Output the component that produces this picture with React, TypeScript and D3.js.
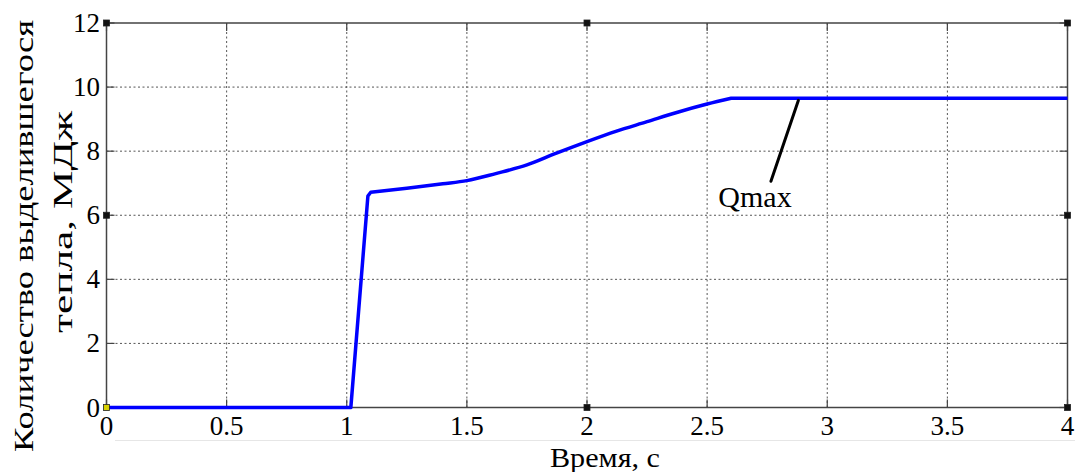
import React from "react";
import * as d3 from "d3";

// Heat release curve: time (s) vs released heat (MJ)
const timeS = [0, 1.0, 1.017, 1.088, 1.1, 1.25, 1.4, 1.5, 1.62, 1.75, 1.87, 2.0, 2.12, 2.25, 2.37, 2.5, 2.6, 4.0];
const heatMJ = [0, 0, 0, 6.6, 6.72, 6.84, 6.98, 7.08, 7.3, 7.57, 7.93, 8.3, 8.62, 8.92, 9.2, 9.47, 9.65, 9.65];

const xTicks = [0, 0.5, 1, 1.5, 2, 2.5, 3, 3.5, 4];
const xTickLabels = ["0", "0.5", "1", "1.5", "2", "2.5", "3", "3.5", "4"];
const yTicks = [0, 2, 4, 6, 8, 10, 12];
const yTickLabels = ["0", "2", "4", "6", "8", "10", "12"];

const yTitleLines = ["Количество выделившегося", "тепла, МДж"];
const xTitle = "Время, с";
const annotation = "Qmax";
const annotationTime = 2.88;

const W = 1075;
const H = 472;
const serifStyle = { fontFamily: '"Liberation Serif", "Times New Roman", Tinos, "DejaVu Serif", serif' };

export default function App() {
  const left = 106.5;
  const right = 1067.5;
  const top = 23;
  const bottom = 407.5;

  const x = d3.scaleLinear().domain([0, 4]).range([left, right]);
  const y = d3.scaleLinear().domain([0, 12]).range([bottom, top]);

  const pts: [number, number][] = timeS.map((t, i) => [t, heatMJ[i]]);
  const linear = d3
    .line<[number, number]>()
    .x((d) => x(d[0]))
    .y((d) => y(d[1]));
  const smooth = d3
    .line<[number, number]>()
    .x((d) => x(d[0]))
    .y((d) => y(d[1]))
    .curve(d3.curveMonotoneX);

  // straight step-up, smooth growth, flat plateau
  const riseEnd = 4;
  const growthEnd = 16;
  const pathD =
    (linear(pts.slice(0, riseEnd + 1)) || "") +
    (smooth(pts.slice(riseEnd, growthEnd + 1)) || "").replace(/^M/, "L") +
    (linear(pts.slice(growthEnd)) || "").replace(/^M/, "L");

  const tickLen = 8;
  const gridColor = "#555";
  const frameColor = "#444";

  // annotation pointer: from the plateau down-left to the label
  const plateau = heatMJ[heatMJ.length - 1];
  const px1 = x(annotationTime);
  const py1 = y(plateau) + 2;
  const px2 = px1 - 27.5;
  const py2 = py1 + 81;

  const midX = (left + right) / 2;
  const midY = (top + bottom) / 2;
  const handles: [number, number, string][] = [
    [left, top, "#111"],
    [midX, top, "#111"],
    [right, top, "#111"],
    [right, midY, "#111"],
    [right, bottom, "#111"],
    [midX, bottom, "#111"],
    [left, midY, "#111"],
    [left, bottom, "#d8d000"],
  ];

  return (
    <div style={{ position: "fixed", left: 0, top: 0 }}>
      <svg width={W} height={H} style={{ display: "block", background: "#fff", ...serifStyle }}>
        {/* grid */}
        <g stroke={gridColor} strokeWidth={1} strokeDasharray="2,2.5">
          {xTicks.slice(1, -1).map((t) => (
            <line key={"gx" + t} x1={x(t)} x2={x(t)} y1={top} y2={bottom} />
          ))}
          {yTicks.slice(1, -1).map((v) => (
            <line key={"gy" + v} x1={left} x2={right} y1={y(v)} y2={y(v)} />
          ))}
        </g>

        {/* ticks on all four sides, pointing inward */}
        <g stroke={frameColor} strokeWidth={1.2}>
          {xTicks.map((t) => (
            <g key={"tx" + t}>
              <line x1={x(t)} x2={x(t)} y1={bottom} y2={bottom - tickLen} />
              <line x1={x(t)} x2={x(t)} y1={top} y2={top + tickLen} />
            </g>
          ))}
          {yTicks.map((v) => (
            <g key={"ty" + v}>
              <line x1={left} x2={left + tickLen} y1={y(v)} y2={y(v)} />
              <line x1={right} x2={right - tickLen} y1={y(v)} y2={y(v)} />
            </g>
          ))}
        </g>

        {/* frame */}
        <rect
          x={left}
          y={top}
          width={right - left}
          height={bottom - top}
          fill="none"
          stroke={frameColor}
          strokeWidth={1.5}
        />

        {/* data line */}
        <path d={pathD} fill="none" stroke="#0000ff" strokeWidth={3.5} strokeLinejoin="round" />

        {/* annotation */}
        <line x1={px1} y1={py1} x2={px2} y2={py2} stroke="#000" strokeWidth={3} strokeLinecap="round" />
        <text x={755} y={207} textAnchor="middle" style={serifStyle} fontSize={30} fill="#000">
          {annotation}
        </text>

        {/* selection handles */}
        {handles.map(([hx, hy, c], i) => (
          <rect key={"h" + i} x={hx - 3} y={hy - 3} width={6} height={6} fill={c} stroke="#222" strokeWidth={0.8} />
        ))}

        {/* tick labels */}
        <g style={serifStyle} fontSize={27} fill="#000">
          {xTicks.map((t, i) => (
            <text key={"lx" + t} x={x(t)} y={435} textAnchor="middle">
              {xTickLabels[i]}
            </text>
          ))}
          {yTicks.map((v, i) => (
            <text key={"ly" + v} x={100} y={y(v) + 9} textAnchor="end">
              {yTickLabels[i]}
            </text>
          ))}
        </g>

        {/* faint separator under the x labels */}
        <line x1={115} x2={W} y1={440.5} y2={440.5} stroke="#e6e6e6" strokeWidth={1} />

        {/* axis titles */}
        <text x={605} y={467} textAnchor="middle" style={serifStyle} fontSize={28} textLength={110} lengthAdjust="spacingAndGlyphs" fill="#000">
          {xTitle}
        </text>
        <text
          transform="translate(33,236) rotate(-90)"
          textAnchor="middle"
          style={serifStyle}
          fontSize={28}
          textLength={432}
          lengthAdjust="spacingAndGlyphs"
          fill="#000"
        >
          {yTitleLines[0]}
        </text>
        <text
          transform="translate(72,222) rotate(-90)"
          textAnchor="middle"
          style={serifStyle}
          fontSize={28}
          textLength={222}
          lengthAdjust="spacingAndGlyphs"
          fill="#000"
        >
          {yTitleLines[1]}
        </text>
      </svg>
    </div>
  );
}
